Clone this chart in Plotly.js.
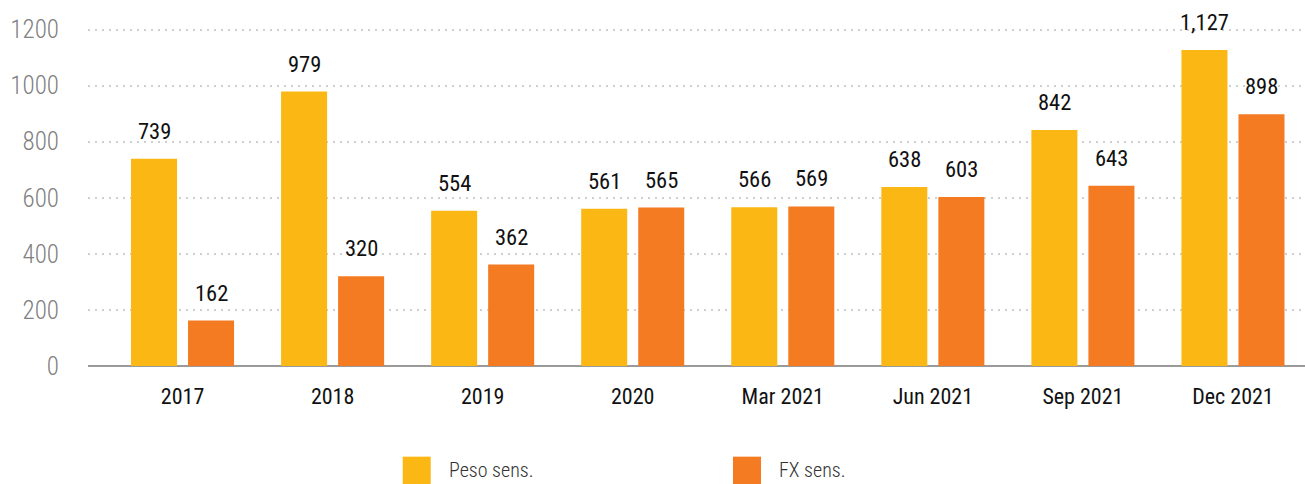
<!DOCTYPE html>
<html><head><meta charset="utf-8">
<script src="https://cdn.plot.ly/plotly-3.0.1.min.js"></script>
<style>html,body{margin:0;padding:0;background:#fff}#chart{width:1305px;height:484px}</style>
</head><body><div id="chart"></div>
<script>
const categories = ["2017","2018","2019","2020","Mar 2021","Jun 2021","Sep 2021","Dec 2021"];
const pesoSens = [739, 979, 554, 561, 566, 638, 842, 1127];
const fxSens = [162, 320, 362, 565, 569, 603, 643, 898];
const seriesNames = ["Peso sens.", "FX sens."];
const yTicks = [0, 200, 400, 600, 800, 1000, 1200];

const colors = ["#FBB714", "#F47B22"];
const FONT = "Roboto Condensed, Liberation Sans Narrow, Roboto, sans-serif";
const fmt = v => v.toLocaleString("en-US");

const series = [pesoSens, fxSens];
const traces = series.map((vals, k) => ({
  type: "bar",
  name: seriesNames[k],
  x: categories,
  y: vals,
  marker: {color: colors[k]},
  hoverinfo: "x+y"
}));

const annotations = [];
series.forEach((vals, k) => {
  vals.forEach((v, i) => {
    annotations.push({
      x: i, y: v, xref: "x", yref: "y",
      text: fmt(v), showarrow: false,
      xshift: k === 0 ? -28.5 : 28.5,
      yanchor: "bottom", yshift: 13,
      font: {family: FONT, size: 22.5, color: "#111", weight: 400}
    });
  });
});

// custom legend
const shapes = [];
const legendX = [0.2586, 0.530];
seriesNames.forEach((name, k) => {
  shapes.push({
    type: "rect", xref: "paper", yref: "paper",
    x0: legendX[k], x1: legendX[k] + 0.023,
    y0: -0.262, y1: -0.345,
    fillcolor: colors[k], line: {width: 0}
  });
  annotations.push({
    xref: "paper", yref: "paper",
    x: legendX[k] + 0.036, y: -0.302,
    xanchor: "left", yanchor: "middle",
    text: name, showarrow: false,
    font: {family: FONT, size: 20, color: "#333", weight: 300}
  });
});

const layout = {
  width: 1305, height: 484,
  margin: {l: 88, r: 0, t: 20, b: 118},
  paper_bgcolor: "#fff", plot_bgcolor: "#fff",
  barmode: "group", bargap: 0.24, bargroupgap: 0.193,
  showlegend: false,
  xaxis: {
    type: "category",
    range: [-0.63, 7.48],
    showgrid: false, zeroline: false, showline: false,
    ticks: "", ticklabelstandoff: 15,
    tickfont: {family: FONT, size: 22, color: "#111", weight: 400}
  },
  yaxis: {
    range: [0, 1234],
    tickvals: yTicks, ticktext: yTicks.map(String),
    showgrid: true, gridcolor: "#cfcfcf", gridwidth: 2, griddash: "2px,5px",
    zeroline: true, zerolinecolor: "#9a9a9a", zerolinewidth: 2,
    showline: false, ticks: "", ticklabelstandoff: 28,
    tickfont: {family: FONT, size: 25, color: "#808080", weight: 300}
  },
  annotations: annotations,
  shapes: shapes
};

Plotly.newPlot("chart", traces, layout, {displayModeBar: false});
</script>
</body></html>
